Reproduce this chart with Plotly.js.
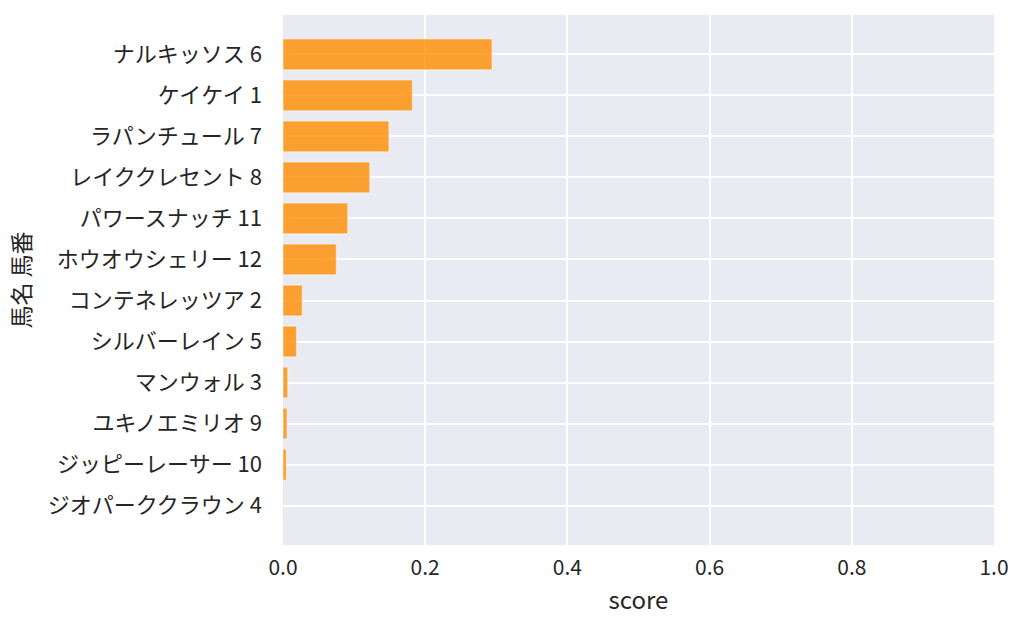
<!DOCTYPE html>
<html>
<head>
<meta charset="utf-8">
<script src="https://cdn.plot.ly/plotly-3.0.1.min.js"></script>
<style>
  body { margin: 0; background: #fff; }
  #chart { width: 1024px; height: 634px; }
</style>
</head>
<body>
<div id="chart"></div>
<script>
// horse name + number, top to bottom
const horses = [
    "ナルキッソス 6",
    "ケイケイ 1",
    "ラパンチュール 7",
    "レイククレセント 8",
    "パワースナッチ 11",
    "ホウオウシェリー 12",
    "コンテネレッツア 2",
    "シルバーレイン 5",
    "マンウォル 3",
    "ユキノエミリオ 9",
    "ジッピーレーサー 10",
    "ジオパーククラウン 4",
];
const scores = [0.294, 0.182, 0.149, 0.122, 0.091, 0.075, 0.027, 0.019, 0.0066, 0.0056, 0.0047, 0.0004];
const xticks = [0, 0.2, 0.4, 0.6, 0.8, 1.0];
const xticktext = ["0.0", "0.2", "0.4", "0.6", "0.8", "1.0"];

const font = "Noto Sans CJK JP, Noto Sans, sans-serif";
const ink = "#262626";

const data = [{
    type: "bar",
    orientation: "h",
    x: scores,
    y: horses,
    marker: {
        color: "rgba(255,140,0,0.8)",
        line: {color: "rgba(255,255,255,0.45)", width: 1.2},
    },
    hoverinfo: "x+y",
}];

const layout = {
    width: 1024,
    height: 634,
    margin: {l: 283, r: 30, t: 15, b: 89},
    paper_bgcolor: "#ffffff",
    plot_bgcolor: "#EAEAF2",
    bargap: 0.25,
    showlegend: false,
    font: {family: font, color: ink, size: 22},
    xaxis: {
        range: [0, 1],
        tickvals: xticks,
        ticktext: xticktext,
        showgrid: true,
        gridcolor: "#ffffff",
        gridwidth: 2,
        zeroline: false,
        showline: false,
        ticks: "",
        ticklabelstandoff: 8,
        tickfont: {family: font, size: 21, color: ink},
        title: {text: "score", font: {family: font, size: 24, color: ink}, standoff: 12},
    },
    yaxis: {
        type: "category",
        categoryorder: "array",
        categoryarray: horses,
        range: [11.96, -0.96],
        showgrid: true,
        gridcolor: "#ffffff",
        gridwidth: 2,
        zeroline: false,
        showline: false,
        ticks: "",
        ticklabelstandoff: 20,
        tickfont: {family: font, size: 22, color: ink},
        title: {text: "馬名 馬番", font: {family: font, size: 23, color: ink}, standoff: 10},
    },
};

Plotly.newPlot("chart", data, layout, {displayModeBar: false, staticPlot: true});
</script>
</body>
</html>
